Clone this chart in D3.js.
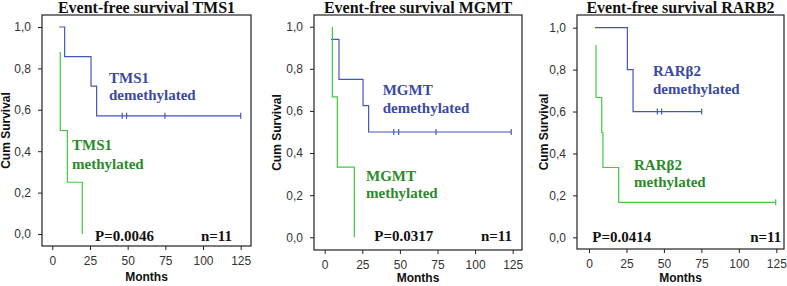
<!DOCTYPE html>
<html>
<head>
<meta charset="utf-8">
<title>Event-free survival</title>
<style>
  body { margin: 0; background: #fff; }
  .tick text { font-family: "Liberation Sans", Arial, sans-serif; font-size: 12px; fill: #333; }
  .axis-title { font-family: "Liberation Sans", Arial, sans-serif; font-size: 12px; font-weight: bold; fill: #111; }
  .title { font-family: "Liberation Serif", "Times New Roman", serif; font-size: 16px; font-weight: bold; fill: #111; }
  .note { font-family: "Liberation Serif", "Times New Roman", serif; font-size: 15px; font-weight: bold; }
</style>
</head>
<body>
<div id="chart"></div>
<script src="https://cdn.jsdelivr.net/npm/d3@7"></script>
<script>

  // data
  const titles = ["Event-free survival TMS1", "Event-free survival MGMT", "Event-free survival RARB2"];
  const genes = ["TMS1", "MGMT", "RARβ2"];
  const pValues = ["P=0.0046", "P=0.0317", "P=0.0414"];
  const nText = ["n=11", "n=11", "n=11"];

  // [months, cum survival] step points
  const demethylated = [
    [[4.6, 1], [8.2, 0.857], [25.7, 0.714], [29.4, 0.571], [125, 0.571]],
    [[4.2, 0.94], [9.5, 0.75], [25.5, 0.625], [29.2, 0.5], [124, 0.5]],
    [[4, 1], [25.6, 0.8], [29.4, 0.6], [75.2, 0.6]]
  ];
  const demethCensored = [[46.4, 49.3, 74.7, 125], [45.9, 49.2, 74, 124], [45.6, 48.5, 75.2]];

  const methylated = [
    [[4.6, 0.875], [5.3, 0.5], [10, 0.25], [19.9, 0]],
    [[5.1, 1], [5.1, 0.667], [8.4, 0.333], [19.7, 0]],
    [[4.7, 0.917], [4.7, 0.667], [8.5, 0.5], [9.3, 0.333], [19.8, 0.167], [124.6, 0.167]]
  ];
  const methCensored = [[], [], [124.6]];

  const xTicks = [0, 25, 50, 75, 100, 125];
  const yTicks = [0, 0.2, 0.4, 0.6, 0.8, 1.0];

  const width = 787, height = 286;
  const blueLine = "#4656b8", greenLine = "#3fcc3f";
  const blueText = "#3a49a3", greenText = "#2b8a2b";

  // box and inner range of each panel, label spots
  const panels = [
    { box: [42, 251, 15, 246], xr: [52.3, 240.7], yr: [234, 27],
      blue: [109, 83, 17], green: [72, 150, 19], p: [95, 241], n: [232, 241], ylab: 9.5 },
    { box: [314, 522, 15, 250], xr: [324.7, 512.7], yr: [237.3, 26.7],
      blue: [382.7, 95, 17.7], green: [366, 180.7, 17.3], p: [374.3, 241.3], n: [512, 241.3], ylab: 280.5 },
    { box: [577, 784, 15, 249], xr: [589, 776.3], yr: [237.3, 27.7],
      blue: [653, 76.3, 18], green: [634, 169.7, 17.6], p: [592.3, 242], n: [781.3, 242], ylab: 547.5 }
  ];

  const svg = d3.select("#chart").append("svg")
    .attr("width", width)
    .attr("height", height)
    .style("background", "#fff");

  panels.forEach((pn, i) => {
    const [x0, x1, y0, y1] = pn.box;
    const x = d3.scaleLinear().domain([0, 125]).range(pn.xr);
    const y = d3.scaleLinear().domain([0, 1]).range(pn.yr);
    const g = svg.append("g");

    g.append("text").attr("class", "title")
      .attr("x", (x0 + x1) / 2).attr("y", y0 - 2.5)
      .attr("text-anchor", "middle")
      .text(titles[i]);

    g.append("rect")
      .attr("x", x0).attr("y", y0)
      .attr("width", x1 - x0).attr("height", y1 - y0)
      .attr("fill", "none").attr("stroke", "#222").attr("stroke-width", 1.2);

    const xAxis = g.append("g")
      .attr("transform", `translate(0,${y1})`)
      .call(d3.axisBottom(x).tickValues(xTicks).tickSize(4).tickPadding(6));
    const yAxis = g.append("g")
      .attr("transform", `translate(${x0},0)`)
      .call(d3.axisLeft(y).tickValues(yTicks).tickSize(4).tickPadding(7)
        .tickFormat(d => d3.format(".1f")(d).replace(".", ",")));
    [xAxis, yAxis].forEach(a => {
      a.select(".domain").remove();
      a.selectAll(".tick line").attr("stroke", "#222");
    });

    g.append("text").attr("class", "axis-title")
      .attr("x", (x0 + x1) / 2).attr("y", Math.min(y1 + 35, 282))
      .attr("text-anchor", "middle").text("Months");
    g.append("text").attr("class", "axis-title")
      .attr("transform", `translate(${pn.ylab},${(y0 + y1) / 2}) rotate(-90)`)
      .attr("text-anchor", "middle").text("Cum Survival");

    const line = d3.line()
      .x(d => x(d[0])).y(d => y(d[1]))
      .curve(d3.curveStepAfter);

    const curves = [
      { pts: demethylated[i], cens: demethCensored[i], color: blueLine },
      { pts: methylated[i], cens: methCensored[i], color: greenLine }
    ];
    curves.forEach(c => {
      g.append("path")
        .attr("d", line(c.pts))
        .attr("fill", "none").attr("stroke", c.color).attr("stroke-width", 1.2);
      const last = c.pts[c.pts.length - 1][1];
      g.selectAll(null).data(c.cens).join("line")
        .attr("x1", d => x(d)).attr("x2", d => x(d))
        .attr("y1", y(last) - 3).attr("y2", y(last) + 3)
        .attr("stroke", c.color).attr("stroke-width", 1.2);
    });

    const note = (pos, color, lines) => {
      const t = g.append("text").attr("class", "note").attr("fill", color)
        .attr("x", pos[0]).attr("y", pos[1]);
      lines.forEach((s, k) => {
        t.append("tspan").attr("x", pos[0]).attr("dy", k === 0 ? 0 : pos[2]).text(s);
      });
    };
    note(pn.blue, blueText, [genes[i], "demethylated"]);
    note(pn.green, greenText, [genes[i], "methylated"]);

    g.append("text").attr("class", "note").attr("fill", "#111")
      .attr("x", pn.p[0]).attr("y", pn.p[1]).text(pValues[i]);
    g.append("text").attr("class", "note").attr("fill", "#111")
      .attr("x", pn.n[0]).attr("y", pn.n[1]).attr("text-anchor", "end").text(nText[i]);
  });

</script>
</body>
</html>
